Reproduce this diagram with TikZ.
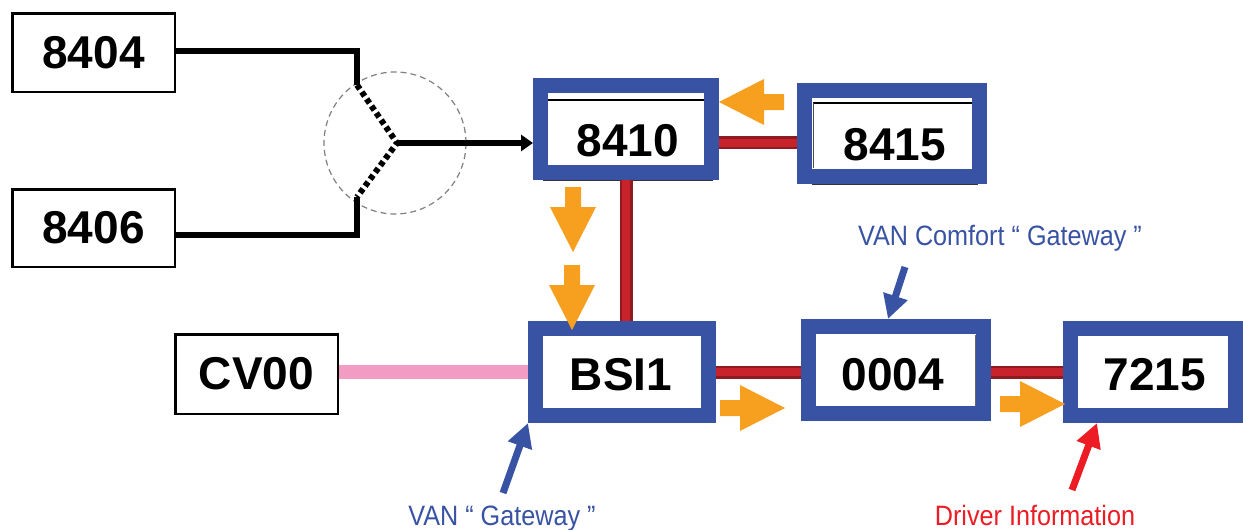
\documentclass[tikz,border=0pt]{standalone}
\usepackage{fontspec}
\setmainfont{Liberation Sans}
\newfontfamily\lblfont[FakeStretch=0.9]{Liberation Sans}
\newcommand\ecufont{\fontsize{46}{50}\selectfont\bfseries}
\usetikzlibrary{arrows.meta}
\definecolor{vanblue}{HTML}{3953A4}
\definecolor{orangeA}{HTML}{F7A01F}
\definecolor{redfill}{HTML}{C8222C}
\definecolor{rededge}{HTML}{8E1B20}
\definecolor{pinkline}{HTML}{F29CC3}
\definecolor{redlabel}{HTML}{ED1C24}
\begin{document}
\begin{tikzpicture}[x=1pt,y=-1pt,
  ecu/.style={draw=black, line width=2.5pt, fill=white, font=\ecufont, inner sep=0pt},
  vanbox/.style={draw=vanblue, line width=15pt, fill=white, font=\ecufont, inner sep=0pt},
  ecutext/.style={font=\ecufont, inner sep=0pt},
  wire/.style={draw=black, line width=6pt},
  redbus/.style={draw=rededge, line width=13pt, postaction={draw=redfill, line width=8pt}},
  pinkbus/.style={draw=pinkline, line width=14pt},
  callout/.style={line width=7pt, -{Triangle[length=24pt,width=24pt]}},
  lbl/.style={font=\lblfont\fontsize{28}{30}\selectfont, inner sep=0pt, anchor=base},
  fatarrow/.pic={\fill[orangeA] (0,0) -- (-45,-23) -- (-45,-8) -- (-65,-8) -- (-65,8) -- (-45,8) -- (-45,23) -- cycle;}
]
\useasboundingbox[fill=white] (0,0) rectangle (1243,530);

% selector circle
\node[circle, draw=gray, dashed, line width=1.2pt, dash pattern=on 6pt off 4pt, minimum size=142pt, inner sep=0pt] (sel) at (395,143) {};

% black boxes
\node[ecu, minimum width=162.5pt, minimum height=78.5pt] (n8404) at (93.5,52.5) {8404};
\node[ecu, minimum width=162.5pt, minimum height=77.5pt] (n8406) at (93.5,228) {8406};
\node[ecu, minimum width=162.5pt, minimum height=79.5pt] (ncv) at (256.5,374) {CV00};

% shadows under 8410 / 8415
\draw[line width=2.5pt, black!80] (543,180) -- (713,180);
\draw[line width=2.5pt, black!80] (812,184) -- (978,184);

% blue boxes
\node[vanbox, minimum width=171pt, minimum height=87pt] (n8410) at (626,128.5) {};
\node[vanbox, minimum width=175pt, minimum height=86pt] (n8415) at (892,133) {};
\node[vanbox, minimum width=173pt, minimum height=87pt] (nbsi) at (622,372) {};
\node[vanbox, minimum width=175pt, minimum height=87pt] (n0004) at (896,370) {};
\node[vanbox, minimum width=165pt, minimum height=87pt] (n7215) at (1153,372) {};

\node[ecutext] (t8410) at (628,141) {8410};
\node[ecutext] (t8415) at (895,145) {8415};
\node[ecutext] (tbsi) at (621,375) {BSI1};
\node[ecutext] (t0004) at (893,375) {0004};
\node[ecutext] (t7215) at (1155,375) {7215};

% inner details of 8410 / 8415 / 0004
\draw[line width=2pt] (548,100) -- (704,100);
\draw[line width=2pt] (813,103) -- (972,103);
\draw[line width=1pt, black!70] (813,103) -- (813,168);
\draw[line width=1pt, black!60] (975,335) -- (975,406);

% selector wiring
\coordinate (j1) at (357,85);
\coordinate (j2) at (357,197);
\coordinate (jm) at (397,143);
\draw[wire] ([yshift=1.5pt]n8404.east) -| (j1);
\draw[wire] ([yshift=-7pt]n8406.east) -| (j2);
\draw[black, line width=6pt, dash pattern=on 5pt off 3.5pt] (j1) -- (jm) -- (j2);
\draw[wire, -{Triangle[length=12pt,width=16pt]}] (jm) -- (jm -| n8410.west);

% buses
\draw[redbus] ([yshift=-14pt]n8410.east) -- ([yshift=-14pt]n8410.east -| n8415.west);
\draw[redbus] (n8410.south) -- (n8410.south |- nbsi.north);
\draw[pinkbus] ([yshift=2pt]ncv.east) -- ([yshift=2pt]ncv.east -| nbsi.west);
\draw[redbus] (nbsi.east) -- (nbsi.east -| n0004.west);
\draw[redbus] ([yshift=-2pt]n0004.east) -- ([yshift=-2pt]n0004.east -| n7215.west);

% orange flow arrows
\pic[rotate=180] at (719,102) {fatarrow};
\pic[rotate=-90] at (573,252) {fatarrow};
\pic[rotate=-90] at (572,330) {fatarrow};
\pic at (785,408) {fatarrow};
\pic at (1065,404) {fatarrow};

% labels and callouts
\node[lbl, text=vanblue] (lgw) at (502,525) {VAN “ Gateway ”};
\node[lbl, text=vanblue] (lcomf) at (1000,245) {VAN Comfort “ Gateway ”};
\node[lbl, text=redlabel] (ldrv) at (1035,525) {Driver Information};
\coordinate (c1) at (503,493);
\coordinate (c2) at (905,267);
\coordinate (c3) at (1072,490);
\draw[callout, vanblue] (c1) -- (nbsi.south west);
\draw[callout, vanblue] (c2) -- ([xshift=-8pt]n0004.north);
\draw[callout, redlabel] (c3) -- ([xshift=34pt]n7215.south west);
\end{tikzpicture}
\end{document}
